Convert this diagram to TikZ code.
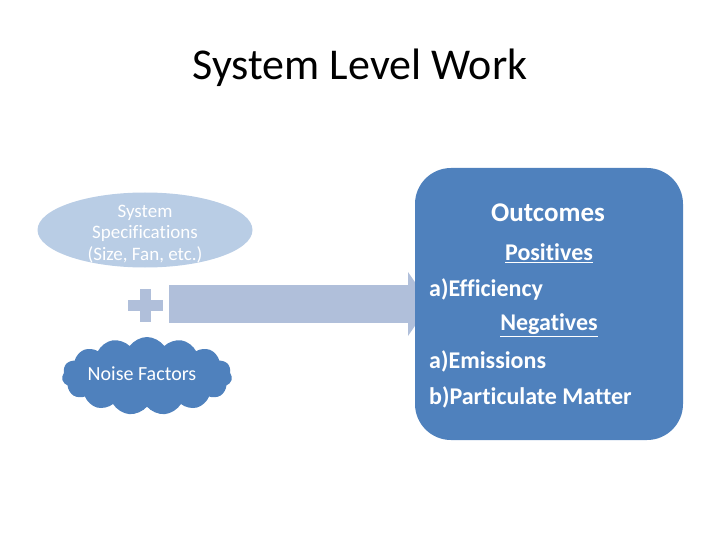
\documentclass[tikz,border=0pt]{standalone}
\usepackage{fontspec}
\setmainfont[Ligatures=CommonOff]{Carlito}
\usetikzlibrary{shapes.symbols,shapes.geometric}
\definecolor{boxblue}{HTML}{4F81BD}
\definecolor{lightblue}{HTML}{B9CDE5}
\definecolor{arrowblue}{HTML}{B0BFDA}
\tikzset{
  txt/.style={font=\fontsize{24}{28}\selectfont\bfseries, text=white, inner sep=0pt},
}
\begin{document}
\begin{tikzpicture}[x=1pt,y=-1pt]
\useasboundingbox (0,0) rectangle (720,540);
\node (title) at (360,68) {\fontsize{44}{52}\selectfont System Level Work};
% ellipse
\node[ellipse, fill=lightblue, minimum width=215pt, minimum height=75pt, inner sep=0pt] (spec) at (145,230) {};
\node[text=white, align=center, font=\fontsize{19}{21.5}\selectfont] (spectxt) at (145,234) {System\\Specifications\\(Size, Fan, etc.)};
% plus
\fill[arrowblue] (128,300) rectangle (163,311);
\fill[arrowblue] (140,289) rectangle (151,322);
\node (plus) at (145,305) {};
% arrow
\fill[arrowblue] (169,285) rectangle (410,323);
\fill[arrowblue] (408,272) -- (430,304) -- (408,336) -- cycle;
\coordinate (arrowtip) at (430,304);
% cloud
\node[cloud, cloud puffs=15, cloud puff arc=110, aspect=2.3, fill=boxblue, minimum width=170pt, minimum height=78pt, inner sep=0pt] (noise) at (147,376) {};
\node[text=white, font=\fontsize{20}{24}\selectfont, inner sep=0pt] (noisetxt) at (142,374) {Noise Factors};
% outcomes box
\node[draw=none, fill=boxblue, rounded corners=36pt, minimum width=268pt, minimum height=272pt, inner sep=0pt] (out) at (549,304) {};
\node[txt, font=\fontsize{27}{30}\selectfont\bfseries] (outc) at (548,213) {Outcomes};
\node[txt] (pos) at (549,253) {\underline{Positives}};
\node[txt, anchor=west] (eff) at (429,289) {a)Efficiency};
\node[txt] (neg) at (549,325) {\underline{Negatives}};
\node[txt, anchor=west] (emi) at (429,361) {a)Emissions};
\node[txt, anchor=west] (pm) at (429,397) {b)Particulate Matter};
\end{tikzpicture}
\end{document}
